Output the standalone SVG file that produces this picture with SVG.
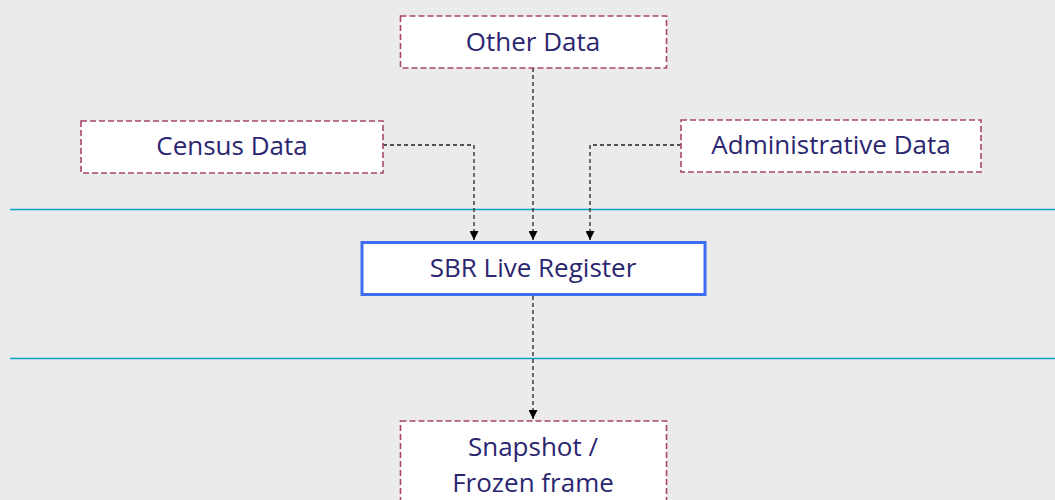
<svg xmlns="http://www.w3.org/2000/svg" width="1055" height="500" viewBox="0 0 1055 500">
<defs>
<marker id="ah" viewBox="0 0 10 10" refX="10" refY="5" markerWidth="10" markerHeight="9" markerUnits="userSpaceOnUse" orient="auto">
<path d="M0,0 L10,5 L0,10 Z" fill="#000"/>
</marker>
<style>
.src{fill:#fff;stroke:#a8456f;stroke-width:1.6;stroke-dasharray:6,3}
.lbl{font-family:"Open Sans","Noto Sans",sans-serif;font-size:26px;fill:#2b2670;text-anchor:middle}
.con{fill:none;stroke:#222;stroke-width:1.3;stroke-dasharray:4,3;marker-end:url(#ah)}
.band{stroke:#0aa2c6;stroke-width:1.6}
</style>
</defs>
<rect width="1055" height="500" fill="#ebebeb"/>
<line class="band" x1="10" y1="209.5" x2="1055" y2="209.5"/>
<line class="band" x1="10" y1="358.5" x2="1055" y2="358.5"/>
<g id="connectors">
<path class="con" d="M383,145 H474 V240"/>
<path class="con" d="M533,68 V240"/>
<path class="con" d="M681,145 H590 V240"/>
<path class="con" d="M533,296 V419"/>
</g>
<g id="other-data">
<rect class="src" x="400.5" y="16" width="266" height="52"/>
<text class="lbl" x="533" y="51">Other Data</text>
</g>
<g id="census-data">
<rect class="src" x="81" y="121" width="302" height="52"/>
<text class="lbl" x="232" y="155">Census Data</text>
</g>
<g id="administrative-data">
<rect class="src" x="681" y="120" width="300" height="52"/>
<text class="lbl" x="831" y="154">Administrative Data</text>
</g>
<g id="sbr-live-register">
<rect x="362" y="242.5" width="343" height="52" fill="#fff" stroke="#3d6ef2" stroke-width="3"/>
<text class="lbl" x="533" y="277">SBR Live Register</text>
</g>
<g id="snapshot">
<rect class="src" x="400.5" y="421" width="266" height="90"/>
<text class="lbl" x="533" y="456">Snapshot /</text>
<text class="lbl" x="533" y="492">Frozen frame</text>
</g>
</svg>
